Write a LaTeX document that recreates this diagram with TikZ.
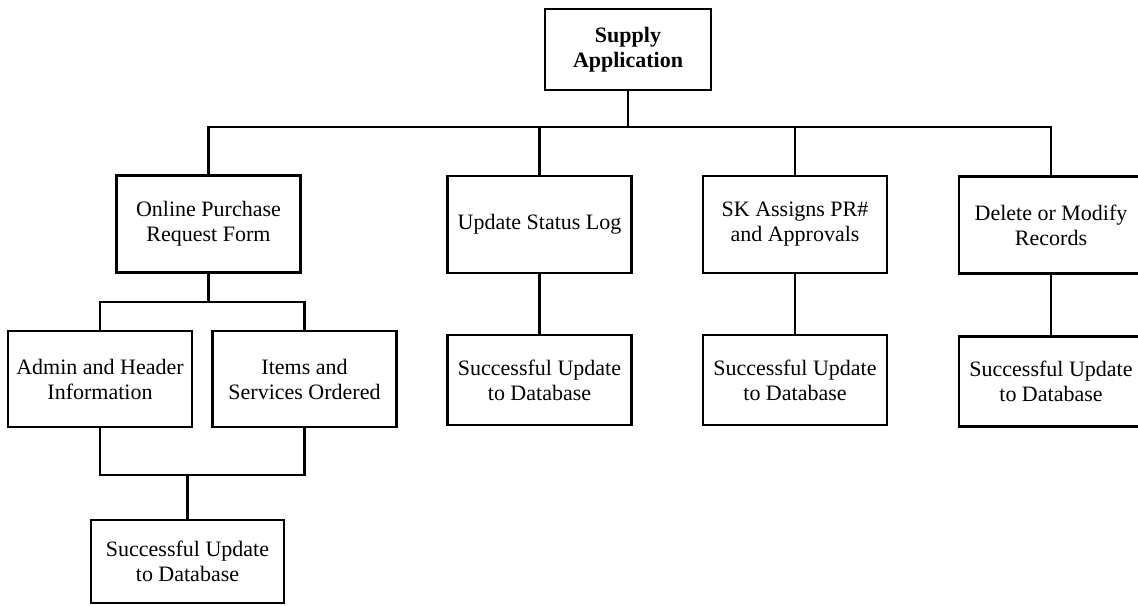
\documentclass[tikz,border=0pt]{standalone}
\usepackage{fontspec}
\setmainfont{Liberation Serif}
\begin{document}
\begin{tikzpicture}[x=0.5pt,y=-0.5pt,line width=1.4pt,
        box/.style={draw,align=center,inner sep=2pt,minimum width=92pt,
            minimum height=48.5pt,font=\fontsize{11}{12.5}\selectfont},
        dbbox/.style={box,minimum height=45pt}]
        \useasboundingbox (0,0) rectangle (1138,605);
        \node[box,font=\fontsize{11}{12.5}\selectfont\bfseries,minimum width=83pt,minimum height=40.5pt]
            (app) at (628,49.5) {Supply\\Application};
        \node[box] (opr) at (208.5,224) {Online Purchase\\Request Form};
        \node[box] (usl) at (539.5,224.5) {Update Status Log};
        \node[box] (sk) at (795,224.5) {SK Assigns PR\#\\and Approvals};
        \node[box] (dm) at (1051,225) {Delete or Modify\\Records};
        \node[box,minimum height=48pt] (adm) at (100,379) {Admin and Header\\Information};
        \node[box,minimum height=48pt] (its) at (304.5,379) {Items and\\Services Ordered};
        \node[dbbox,minimum width=96.5pt,minimum height=41.5pt] (db1) at (187.5,561.5) {Successful Update\\to Database};
        \node[dbbox] (db2) at (539.5,380) {Successful Update\\to Database};
        \node[dbbox] (db3) at (795,380) {Successful Update\\to Database};
        \node[dbbox] (db4) at (1051,381.5) {Successful Update\\to Database};
        \coordinate (bus) at (628,127);
        \coordinate (split) at (208.5,302);
        \coordinate (merge) at (187.5,475);
        \draw (app) -- (bus);
        \draw (opr.north) |- (bus) -| (dm.north);
        \draw (usl.north) -- (usl.north |- bus);
        \draw (sk.north) -- (sk.north |- bus);
        \draw (opr) -- (split);
        \draw (adm.north) |- (split) -| (its.north);
        \draw (adm.south) |- (merge) -| (its.south);
        \draw (merge) -- (db1);
        \foreach \a/\b in {usl/db2,sk/db3,dm/db4}
            \draw (\a) -- (\b);
    \end{tikzpicture}
\end{document}
